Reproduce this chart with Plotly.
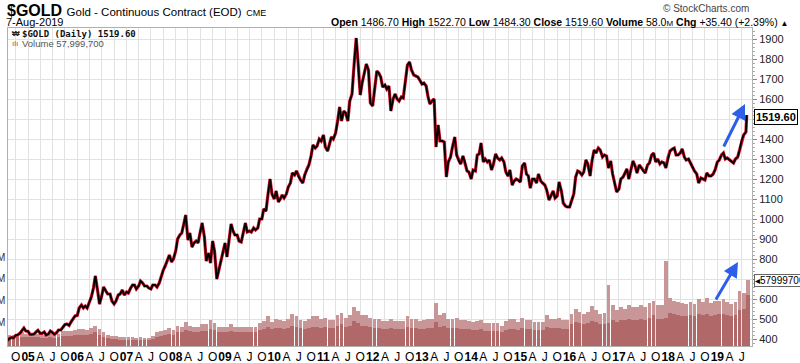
import pandas as pd
import plotly.graph_objects as go

# ---------------- DATA ----------------
# Gold price, sampled on the 1st and 15th of each month (USD/oz)
gold_2004 = [392, 402, 408, 405, 418, 420, 428, 440, 455, 440]  # Aug..Dec
gold_2005 = [438, 423, 422, 425, 435, 443, 428, 428, 435, 420, 425, 440,
             432, 423, 432, 445, 445, 460, 472, 475, 468, 485, 500, 515]
gold_2006 = [518, 555, 570, 555, 565, 555, 585, 610, 655, 715, 640, 575,
             615, 660, 640, 625, 625, 590, 575, 590, 620, 625, 645, 620]
gold_2007 = [635, 630, 655, 670, 670, 650, 665, 690, 680, 665, 665, 655,
             650, 670, 670, 660, 680, 715, 745, 765, 800, 820, 785, 800]
gold_2008 = [840, 900, 920, 930, 975, 1020, 895, 930, 860, 880, 890, 880,
             935, 980, 910, 790, 830, 780, 890, 840, 700, 745, 780, 840]
gold_2009 = [880, 810, 920, 975, 940, 920, 920, 890, 885, 930, 980, 935,
             940, 935, 955, 945, 955, 1000, 1000, 1050, 1040, 1120, 1200, 1125]
gold_2010 = [1100, 1140, 1085, 1100, 1120, 1105, 1125, 1160, 1180, 1230, 1220, 1240,
             1210, 1195, 1180, 1220, 1250, 1270, 1315, 1370, 1355, 1365, 1400, 1390]
gold_2011 = [1420, 1360, 1340, 1375, 1410, 1400, 1430, 1485, 1560, 1490, 1540, 1530,
             1490, 1590, 1625, 1760, 1905, 1780, 1620, 1680, 1730, 1775, 1745, 1580]
gold_2012 = [1565, 1640, 1740, 1730, 1710, 1660, 1670, 1650, 1665, 1540, 1600, 1625,
             1600, 1590, 1610, 1605, 1690, 1770, 1785, 1745, 1720, 1715, 1710, 1695]
gold_2013 = [1675, 1680, 1665, 1610, 1575, 1590, 1600, 1360, 1470, 1390, 1390, 1385,
             1210, 1285, 1310, 1360, 1410, 1320, 1290, 1275, 1315, 1285, 1240, 1235]
gold_2014 = [1200, 1245, 1240, 1320, 1325, 1380, 1285, 1300, 1285, 1295, 1245, 1275,
             1325, 1305, 1295, 1305, 1285, 1235, 1215, 1245, 1170, 1190, 1200, 1195]
gold_2015 = [1185, 1265, 1280, 1225, 1215, 1155, 1200, 1200, 1180, 1225, 1190, 1180,
             1170, 1145, 1095, 1115, 1140, 1105, 1115, 1185, 1140, 1080, 1065, 1060]
gold_2016 = [1060, 1090, 1125, 1210, 1240, 1235, 1220, 1235, 1295, 1275, 1215, 1290,
             1345, 1330, 1355, 1345, 1310, 1320, 1315, 1255, 1290, 1225, 1175, 1135]
gold_2017 = [1150, 1200, 1210, 1235, 1250, 1200, 1250, 1290, 1265, 1230, 1270, 1255,
             1240, 1230, 1270, 1280, 1320, 1330, 1285, 1300, 1275, 1285, 1280, 1255]
gold_2018 = [1310, 1340, 1350, 1355, 1320, 1320, 1330, 1350, 1310, 1295, 1300, 1280,
             1255, 1240, 1225, 1180, 1205, 1200, 1195, 1230, 1215, 1215, 1225, 1245]
gold_2019 = [1285, 1295, 1320, 1330, 1300, 1305, 1295, 1285, 1280, 1300, 1310, 1345,
             1395, 1420, 1435]  # Jan..Aug 1
last_date = "2019-08-07"
last_close = 1519.60

# Monthly volume, millions: typical level and spikes
vol_avg_2004 = [7, 7, 8, 8, 8]
vol_avg_2005 = [8, 8, 8, 7, 7, 8, 7, 8, 9, 9, 9, 10]
vol_avg_2006 = [10, 10, 10, 11, 12, 10, 8, 7, 6, 6, 5, 5]
vol_avg_2007 = [5, 5, 5, 5, 5, 5, 6, 8, 9, 10, 11, 10]
vol_avg_2008 = [12, 12, 14, 13, 12, 12, 13, 13, 15, 14, 12, 12]
vol_avg_2009 = [12, 13, 12, 12, 12, 12, 12, 12, 14, 15, 17, 15]
vol_avg_2010 = [16, 16, 15, 16, 18, 17, 16, 15, 16, 17, 17, 16]
vol_avg_2011 = [17, 16, 16, 18, 19, 17, 18, 22, 20, 18, 18, 17]
vol_avg_2012 = [16, 16, 15, 15, 16, 15, 15, 15, 17, 16, 16, 15]
vol_avg_2013 = [15, 16, 16, 21, 17, 18, 16, 16, 16, 15, 15, 15]
vol_avg_2014 = [14, 14, 15, 13, 13, 13, 13, 12, 14, 15, 15, 14]
vol_avg_2015 = [16, 15, 15, 14, 14, 14, 17, 16, 16, 16, 15, 15]
vol_avg_2016 = [19, 21, 20, 19, 20, 22, 21, 19, 19, 20, 23, 21]
vol_avg_2017 = [23, 23, 24, 23, 23, 24, 23, 25, 27, 24, 24, 25]
vol_avg_2018 = [29, 28, 27, 26, 26, 27, 26, 28, 27, 28, 26, 27]
vol_avg_2019 = [28, 28, 27, 26, 27, 32, 33, 45]

vol_max_2004 = [10, 10, 11, 12, 11]
vol_max_2005 = [11, 11, 11, 10, 10, 11, 10, 11, 13, 13, 13, 14]
vol_max_2006 = [15, 15, 14, 16, 18, 15, 12, 10, 9, 9, 8, 8]
vol_max_2007 = [8, 8, 7, 8, 7, 7, 9, 12, 13, 14, 16, 14]
vol_max_2008 = [18, 17, 21, 18, 17, 17, 19, 19, 23, 20, 17, 17]
vol_max_2009 = [17, 19, 17, 17, 17, 17, 17, 17, 20, 22, 26, 21]
vol_max_2010 = [24, 23, 22, 24, 28, 26, 23, 22, 24, 26, 26, 24]
vol_max_2011 = [25, 23, 23, 27, 29, 25, 27, 34, 31, 27, 27, 25]
vol_max_2012 = [24, 24, 22, 22, 24, 22, 22, 22, 26, 24, 24, 22]
vol_max_2013 = [23, 24, 24, 38, 27, 29, 24, 24, 25, 23, 23, 22]
vol_max_2014 = [21, 22, 23, 20, 20, 20, 20, 18, 22, 24, 24, 21]
vol_max_2015 = [25, 23, 23, 21, 21, 21, 27, 24, 24, 25, 23, 23]
vol_max_2016 = [28, 33, 30, 28, 30, 35, 32, 28, 29, 54, 36, 32]
vol_max_2017 = [34, 33, 36, 34, 34, 36, 34, 38, 40, 36, 36, 75]
vol_max_2018 = [42, 40, 39, 38, 37, 39, 37, 41, 39, 42, 38, 40]
vol_max_2019 = [40, 41, 39, 37, 39, 48, 47, 58]

price_ticks = [400, 500, 600, 700, 800, 900, 1000, 1100, 1200, 1300,
               1400, 1500, 1600, 1700, 1800, 1900]
quarter_letters = {1: None, 4: "A", 7: "J", 10: "O"}

# ---------------- BUILD ----------------
prices = (gold_2004 + gold_2005 + gold_2006 + gold_2007 + gold_2008 + gold_2009 +
          gold_2010 + gold_2011 + gold_2012 + gold_2013 + gold_2014 + gold_2015 +
          gold_2016 + gold_2017 + gold_2018 + gold_2019 + [last_close])
price_dates = list(pd.date_range("2004-08-01", "2019-08-01", freq="SMS")) + [pd.Timestamp(last_date)]
assert len(prices) == len(price_dates), (len(prices), len(price_dates))

vol_avg = (vol_avg_2004 + vol_avg_2005 + vol_avg_2006 + vol_avg_2007 + vol_avg_2008 +
           vol_avg_2009 + vol_avg_2010 + vol_avg_2011 + vol_avg_2012 + vol_avg_2013 +
           vol_avg_2014 + vol_avg_2015 + vol_avg_2016 + vol_avg_2017 + vol_avg_2018 + vol_avg_2019)
vol_max = (vol_max_2004 + vol_max_2005 + vol_max_2006 + vol_max_2007 + vol_max_2008 +
           vol_max_2009 + vol_max_2010 + vol_max_2011 + vol_max_2012 + vol_max_2013 +
           vol_max_2014 + vol_max_2015 + vol_max_2016 + vol_max_2017 + vol_max_2018 + vol_max_2019)
vol_dates = pd.date_range("2004-08-01", "2019-08-01", freq="MS") + pd.Timedelta(days=14)
assert len(vol_avg) == len(vol_dates) == len(vol_max)

tick_dates = pd.date_range("2004-10-01", "2019-07-01", freq="QS-JAN")
tick_text = []
for d in tick_dates:
    if d.month == 1:
        tick_text.append("<b>%02d</b>" % (d.year % 100))
    else:
        tick_text.append(quarter_letters[d.month])

# ---------------- LAYOUT HELPERS ----------------
W, H = 800, 363
L, R, T, B = 8, 752, 28, 346
FONT = "Arial, Liberation Sans, sans-serif"


def px(x):
    return (x - L) / (R - L)


def py(y):
    return (B - y) / (B - T)


fig = go.Figure()

fig.add_trace(go.Bar(x=vol_dates, y=[v * 1e6 for v in vol_max], yaxis="y",
                     marker=dict(color="rgb(200,150,150)", line=dict(width=0)),
                     hoverinfo="skip"))
fig.add_trace(go.Bar(x=vol_dates, y=[v * 1e6 for v in vol_avg], yaxis="y",
                     marker=dict(color="rgb(176,104,104)", line=dict(width=0)),
                     hoverinfo="skip"))
fig.add_trace(go.Scatter(x=price_dates, y=prices, yaxis="y2", mode="lines",
                         line=dict(color="#e0102e", width=3.2), hoverinfo="skip"))
fig.add_trace(go.Scatter(x=price_dates, y=prices, yaxis="y2", mode="lines",
                         line=dict(color="black", width=1.8), hoverinfo="skip"))

ann = []
ann.append(dict(x=px(5), y=py(11), xanchor="left", yanchor="middle",
                text="<b>$GOLD</b> <span style='font-size:11.5px'>Gold - Continuous Contract (EOD)</span>"
                     " <span style='font-size:9px'>CME</span>",
                font=dict(family=FONT, size=16, color="black")))
ann.append(dict(x=px(4), y=py(22.5), xanchor="left", yanchor="middle",
                text="7-Aug-2019", font=dict(family=FONT, size=11, color="black")))
ann.append(dict(x=px(790), y=py(22), xanchor="right", yanchor="middle",
                text="<b>Open</b> 1486.70 <b>High</b> 1522.70 <b>Low</b> 1484.30 <b>Close</b> 1519.60 "
                     "<b>Volume</b> 58.0<span style='font-size:8px'>M</span> <b>Chg</b> +35.40 (+2.39%) "
                     "<span style='font-size:8px'>▲</span>",
                font=dict(family=FONT, size=10.5, color="black")))
ann.append(dict(x=px(751), y=py(8), xanchor="right", yanchor="middle",
                text="© StockCharts.com", font=dict(family=FONT, size=10, color="#444")))
ann.append(dict(x=px(20), y=py(33.5), xanchor="left", yanchor="middle",
                text="<b>$GOLD (Daily) 1519.60</b>",
                font=dict(family="DejaVu Sans Mono, monospace", size=9, color="#111")))
ann.append(dict(x=px(10), y=py(33.5), xanchor="left", yanchor="middle",
                text="<b>₩</b>", font=dict(family=FONT, size=8, color="#222")))
ann.append(dict(x=px(20), y=py(43), xanchor="left", yanchor="middle",
                text="Volume 57,999,700", font=dict(family=FONT, size=9.5, color="#555")))
ann.append(dict(x=px(10), y=py(43), xanchor="left", yanchor="middle",
                text="ılı", font=dict(family=FONT, size=8, color="#666")))
# price tag and volume tag on right axis
ann.append(dict(x=px(754), y=py(117), xanchor="left", yanchor="middle",
                text="<b>1519.60</b>", font=dict(family=FONT, size=11, color="black"),
                bgcolor="white", bordercolor="black", borderwidth=1, borderpad=1))
ann.append(dict(x=px(754), y=py(280), xanchor="left", yanchor="middle",
                text="◂57999700", font=dict(family=FONT, size=10, color="black"),
                bgcolor="white", bordercolor="#666", borderwidth=1, borderpad=0))
# left volume axis remnants
for yy in [257, 278, 300, 322]:
    ann.append(dict(x=px(6.5), y=py(yy), xanchor="right", yanchor="middle",
                    text="M", font=dict(family=FONT, size=10, color="#333")))
# blue arrows
for (hx, hy, tx, ty) in [(745, 104, 723, 148), (738, 262, 715, 301)]:
    ann.append(dict(x=px(hx), y=py(hy), ax=tx - hx, ay=ty - hy, text="",
                    showarrow=True, arrowhead=2, arrowsize=1, arrowwidth=3,
                    arrowcolor="#2d5fe8", standoff=0))
for a in ann:
    a.setdefault("showarrow", False)
    a["xref"] = "paper"
    a["yref"] = "paper"

fig.update_layout(
    width=W, height=H,
    margin=dict(l=L, r=W - R, t=T, b=H - B, autoexpand=False),
    paper_bgcolor="white", plot_bgcolor="white",
    showlegend=False, barmode="overlay", bargap=0,
    font=dict(family=FONT, color="black"),
    xaxis=dict(type="date", range=["2004-08-05", "2019-09-15"], automargin=False,
               tickvals=list(tick_dates), ticktext=tick_text, tickangle=0,
               tickfont=dict(family=FONT, size=12, color="black"),
               showgrid=True, gridcolor="#e2e2e2", gridwidth=1,
               showline=True, linecolor="#b0b0b0", mirror=True, ticks="", ticklen=0),
    yaxis=dict(range=[0, 280e6], visible=False, fixedrange=True, automargin=False),
    yaxis2=dict(overlaying="y", side="right", range=[365, 1955], automargin=False,
                tickvals=price_ticks, ticktext=[str(v) for v in price_ticks],
                tickfont=dict(family=FONT, size=11, color="#222"),
                ticks="outside", ticklen=4, tickcolor="#888",
                minor=dict(dtick=20, ticks="outside", ticklen=2, tickcolor="#aaa"),
                showgrid=True, gridcolor="#e2e2e2",
                showline=True, linecolor="#b0b0b0", mirror=True),
    annotations=ann,
)

fig.write_html("out.html", config={"displayModeBar": False},
               post_script="document.body.style.margin='0px';document.body.style.overflow='hidden';")
